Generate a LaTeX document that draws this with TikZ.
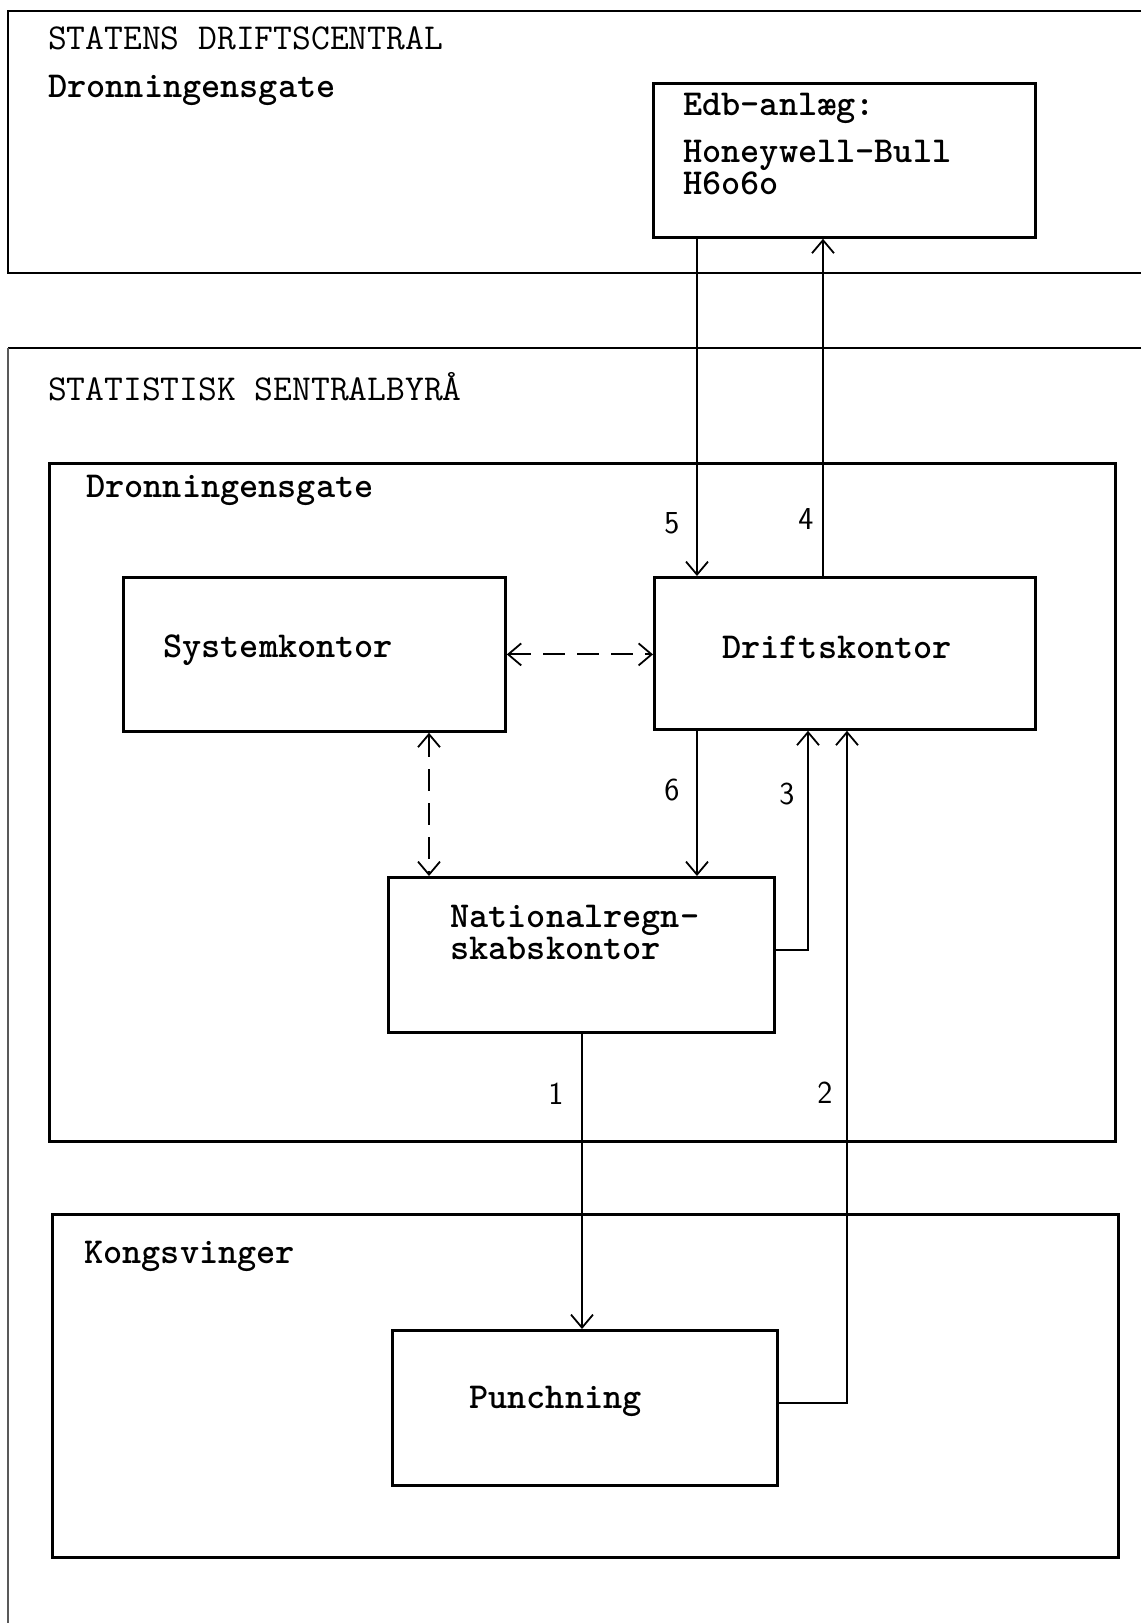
\documentclass[tikz,border=0pt]{standalone}
\usetikzlibrary{arrows.meta}
\begin{document}
\begin{tikzpicture}[x=1pt,y=-1pt,
  boxline/.style={line width=2.8pt},
  box/.style={draw, line width=2.8pt, inner sep=0pt, anchor=north west},
  txt/.style={anchor=base west, inner sep=0pt, font=\fontsize{36.5}{31.5}\selectfont\ttfamily\bfseries},
  ttl/.style={anchor=base west, inner sep=0pt, font=\fontsize{36.5}{40}\selectfont\ttfamily},
  num/.style={anchor=base, inner sep=0pt, font=\fontsize{32}{36}\selectfont\sffamily},
  arr/.style={line width=2pt, -{Straight Barb[length=13pt,width=22pt,line width=1.8pt]}},
  darr/.style={line width=2pt, dash pattern=on 22pt off 12pt,
     {Straight Barb[length=13pt,width=22pt,line width=1.8pt]}-{Straight Barb[length=13pt,width=22pt,line width=1.8pt]}}]
\useasboundingbox (0,0) rectangle (1141,1623);

% outer frames
\draw[boxline] (1141,11) -- (8,11) -- (8,273) -- (1141,273);
\draw[boxline] (1141,348) -- (8,348);
\draw[line width=1.2pt, black!65] (8,348) -- (8,1623);

% titles
\node[ttl] (t1) at (48,49) {STATENS DRIFTSCENTRAL};
\node[txt] (t2) at (48,97) {Dronningensgate};
\node[ttl] (t3) at (48,400) {STATISTISK SENTRALBYRÅ};

% inner area boxes
\node[box, minimum width=1066pt, minimum height=678pt] (dron) at (48,462) {};
\node[txt] (t4) at (86,497) {Dronningensgate};
\node[box, minimum width=1066pt, minimum height=343pt] (kong) at (51,1213) {};
\node[txt] (t5) at (84,1263) {Kongsvinger};

% unit boxes
\node[box, minimum width=382pt, minimum height=154pt] (edb) at (652,82) {};
\node[txt] (e1) at (683,115) {Edb-anlæg:};
\node[txt, align=left] (e2) at (683,194) {Honeywell-Bull\\H6o6o};

\node[box, minimum width=382pt, minimum height=154pt] (sys) at (122,576) {};
\node[txt] (s1) at (163,657) {Systemkontor};

\node[box, minimum width=381pt, minimum height=152pt] (drift) at (653,576) {};
\node[txt] (d1) at (722,658) {Driftskontor};

\node[box, minimum width=386pt, minimum height=155pt] (nat) at (387,876) {};
\node[txt, align=left] (n1) at (450,959) {Nationalregn-\\skabskontor};

\node[box, minimum width=385pt, minimum height=155pt] (punch) at (391,1329) {};
\node[txt] (p1) at (469,1408) {Punchning};

% connector coordinates
\coordinate (c5) at ([xshift=44pt]drift.north west);
\coordinate (c4) at ([xshift=170pt]drift.north west);
\coordinate (c6) at ([xshift=44pt]drift.south west);
\coordinate (c3) at ([xshift=155pt]drift.south west);
\coordinate (c2) at ([xshift=194pt]drift.south west);
\coordinate (c1) at ([xshift=195pt]nat.south west);
\coordinate (cd) at ([xshift=307pt]sys.south west);

% connectors
\draw[arr] (c5 |- edb.south) -- (c5);
\draw[arr] (c4) -- (c4 |- edb.south);
\draw[arr] (c6) -- (c6 |- nat.north);
\draw[arr] ([yshift=4.5pt]nat.east) -| (c3);
\draw[arr] ([yshift=4.5pt]punch.east) -| (c2);
\draw[arr] (c1) -- (c1 |- punch.north);
\draw[darr] (sys.east) -- (sys.east -| drift.west);
\draw[darr] (cd) -- (cd |- nat.north);

% labels
\node[num] (l5) at (672,533) {5};
\node[num] (l4) at (806,529) {4};
\node[num] (l6) at (672,800) {6};
\node[num] (l3) at (787,804) {3};
\node[num] (l1) at (556,1104) {1};
\node[num] (l2) at (825,1103) {2};
\end{tikzpicture}
\end{document}
